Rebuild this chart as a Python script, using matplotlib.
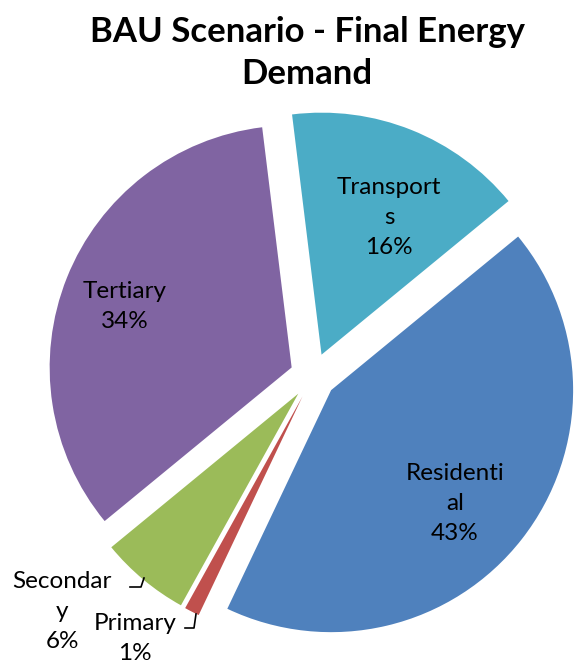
import numpy as np
import matplotlib.pyplot as plt

# data
sectors = ['Transport', 'Residential', 'Primary', 'Secondary', 'Tertiary']
label_text = ['Transport\ns', 'Residenti\nal', 'Primary', 'Secondar\ny', 'Tertiary']
shares = [16, 43, 1, 6, 34]
colors = ['#4BACC6', '#4F81BD', '#C0504D', '#9BBB59', '#8064A2']

plt.rcParams['font.family'] = ['Lato', 'DejaVu Sans']

W, H = 574, 664
cx, cy, R = 313, 376, 242   # pie centre / radius in pixels


def px(x, y):
    # pixel (from top-left) -> data coords
    return (x - cx) / R, (cy - y) / R


fig = plt.figure(figsize=(W / 100, H / 100), dpi=100)
ax = fig.add_axes([0, 0, 1, 1])

wedges, _ = ax.pie(shares, colors=colors, startangle=97, counterclock=False,
                   explode=[0.095] * len(shares), radius=1,
                   wedgeprops=dict(linewidth=0))

ax.set_xlim(-cx / R, (W - cx) / R)
ax.set_ylim(-(H - cy) / R, cy / R)
ax.set_aspect('equal')
ax.axis('off')

# label positions (pixels, first line), same order as sectors
label_pos = [(389, 187), (455, 474), (135, 624), (62, 582), (125, 292)]
step = 30
for name, val, (x, y) in zip(label_text, shares, label_pos):
    lines = name.split('\n') + [f'{val}%']
    for i, ln in enumerate(lines):
        ax.text(*px(x, y + i * step), ln, ha='center', va='center',
                fontsize=17.5, color='black')

# leader lines for the small slices
for pts in ([(130, 587), (141, 587), (144, 578)],
            [(185, 628), (194, 628), (196, 614)]):
    xs, ys = zip(*[px(*p) for p in pts])
    ax.plot(xs, ys, color='black', lw=1.2)

fig.text(307 / W, 1 - 53 / H, 'BAU Scenario - Final Energy\nDemand', ha='center',
         va='center', fontsize=25, fontweight='bold', linespacing=1.38)

fig.savefig('out.png', dpi=100)
